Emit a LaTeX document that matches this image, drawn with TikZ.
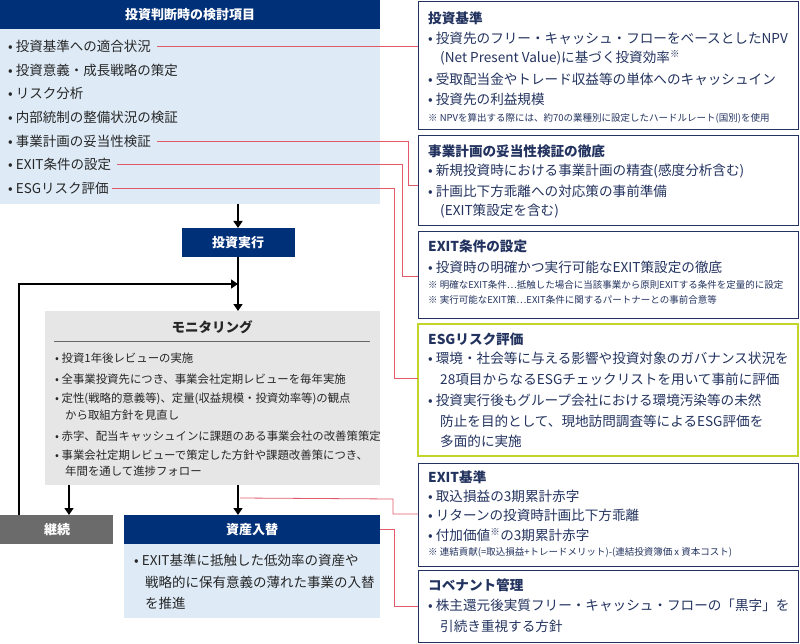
\documentclass[tikz,border=0pt]{standalone}
\usepackage{fontspec}
\setmainfont{Noto Sans CJK JP}
\usepackage{tikz}
\usetikzlibrary{arrows.meta}
\definecolor{navy}{HTML}{003078}
\definecolor{paleblue}{HTML}{DEEBF7}
\definecolor{panelgrey}{HTML}{E6E6E6}
\definecolor{darkgrey}{HTML}{6B6B6B}
\definecolor{inktext}{HTML}{23335F}
\definecolor{linkred}{HTML}{E05A6A}
\definecolor{esgframe}{HTML}{C3D52A}
\tikzset{
  item/.style={anchor=west, inner sep=0pt, font=\fontsize{13.5}{15}\selectfont, text=black!85},
  mon/.style={anchor=west, inner sep=0pt, font=\fontsize{11.4}{13}\selectfont, text=black!85},
  rtext/.style={anchor=west, inner sep=0pt, font=\fontsize{13.6}{15}\selectfont, text=inktext},
  rtitle/.style={anchor=west, inner sep=0pt, font=\fontsize{13.6}{15}\selectfont\bfseries, text=inktext},
  rnote/.style={anchor=west, inner sep=0pt, font=\fontsize{9.5}{11}\selectfont, text=inktext},
  frame/.style={draw=inktext, line width=1pt},
  flow/.style={-{Triangle[length=7pt,width=9pt]}, line width=1.4pt},
  link/.style={draw=linkred, line width=0.8pt}
}
\begin{document}
\begin{tikzpicture}[x=1pt,y=-1pt]
\useasboundingbox (0,0) rectangle (800,644);
% left column
\fill[paleblue] (0,29) rectangle (380,204);
\fill[navy] (0,0) rectangle (380,29);
\node[text=white, font=\fontsize{13}{15}\selectfont\bfseries] (head) at (190,15) {投資判断時の検討項目};
\node[item] (i1) at (8,46) {• 投資基準への適合状況};
\node[item] (i2) at (8,70) {• 投資意義・成長戦略の策定};
\node[item] (i3) at (8,93) {• リスク分析};
\node[item] (i4) at (8,117) {• 内部統制の整備状況の検証};
\node[item] (i5) at (8,141) {• 事業計画の妥当性検証};
\node[item] (i6) at (8,164) {• EXIT条件の設定};
\node[item] (i7) at (8,188) {• ESGリスク評価};
\fill[navy] (182,228) rectangle (295,257);
\node[text=white, font=\fontsize{13}{15}\selectfont\bfseries] (exec) at (238,243) {投資実行};
% monitoring
\fill[panelgrey] (45,311) rectangle (380,485);
\node[font=\fontsize{13.5}{15}\selectfont\bfseries, text=black!85] (montitle) at (212,327) {モニタリング};
\draw[black!60, line width=0.6pt] (54,341) -- (370,341);
\node[mon] (m1) at (55,358) {• 投資1年後レビューの実施};
\node[mon] (m2) at (55,379) {• 全事業投資先につき、事業会社定期レビューを毎年実施};
\node[mon] (m3) at (55,399) {• 定性(戦略的意義等)、定量(収益規模・投資効率等)の観点};
\node[mon] (m3b) at (65,415) {から取組方針を見直し};
\node[mon] (m4) at (55,436) {• 赤字、配当キャッシュインに課題のある事業会社の改善策策定};
\node[mon] (m5) at (55,455) {• 事業会社定期レビューで策定した方針や課題改善策につき、};
\node[mon] (m5b) at (65,471) {年間を通して進捗フォロー};
\fill[darkgrey] (0,515) rectangle (113,544);
\node[text=white, font=\fontsize{13}{15}\selectfont\bfseries] (keep) at (57,530) {継続};
\fill[paleblue] (124,544) rectangle (380,618);
\fill[navy] (124,515) rectangle (380,544);
\node[text=white, font=\fontsize{13}{15}\selectfont\bfseries] (swap) at (252,530) {資産入替};
\node[item] (s1) at (134,560) {• EXIT基準に抵触した低効率の資産や};
\node[item] (s1b) at (145,582) {戦略的に保有意義の薄れた事業の入替};
\node[item] (s1c) at (145,603) {を推進};
% flow arrows
\coordinate (loopin) at (238,284);
\draw[flow] (238,204) -- (238,228);
\draw[flow] (238,257) -- (238,311);
\draw[flow] (19,515) -- (19,284) -- (loopin);
\draw[flow] (69,485) -- (69,515);
\draw[flow] (238,485) -- (238,515);
% right boxes
\draw[frame] (418,2) rectangle (798,130);
\node[rtitle] (r1t) at (428,18) {投資基準};
\node[rtext] (r1a) at (428,38) {• 投資先のフリー・キャッシュ・フローをベースとしたNPV};
\node[rtext] (r1b) at (440,58) {(Net Present Value)に基づく投資効率\textsuperscript{※}};
\node[rtext] (r1c) at (428,79) {• 受取配当金やトレード収益等の単体へのキャッシュイン};
\node[rtext] (r1d) at (428,99) {• 投資先の利益規模};
\node[rnote] (r1n) at (428,118) {※ NPVを算出する際には、約70の業種別に設定したハードルレート(国別)を使用};
\draw[frame] (418,136) rectangle (798,226);
\node[rtitle] (r2t) at (428,151) {事業計画の妥当性検証の徹底};
\node[rtext] (r2a) at (428,171) {• 新規投資時における事業計画の精査(感度分析含む)};
\node[rtext] (r2b) at (428,191) {• 計画比下方乖離への対応策の事前準備};
\node[rtext] (r2c) at (440,211) {(EXIT策設定を含む)};
\draw[frame] (418,232) rectangle (798,318);
\node[rtitle] (r3t) at (428,246) {EXIT条件の設定};
\node[rtext] (r3a) at (428,267) {• 投資時の明確かつ実行可能なEXIT策設定の徹底};
\node[rnote] (r3n1) at (428,285) {※ 明確なEXIT条件…抵触した場合に当該事業から原則EXITする条件を定量的に設定};
\node[rnote] (r3n2) at (428,300) {※ 実行可能なEXIT策…EXIT条件に関するパートナーとの事前合意等};
\draw[draw=esgframe, line width=1.4pt] (418,324) rectangle (798,456);
\node[rtitle] (r4t) at (428,339) {ESGリスク評価};
\node[rtext] (r4a) at (428,358) {• 環境・社会等に与える影響や投資対象のガバナンス状況を};
\node[rtext] (r4b) at (440,379) {28項目からなるESGチェックリストを用いて事前に評価};
\node[rtext] (r4c) at (428,400) {• 投資実行後もグループ会社における環境汚染等の未然};
\node[rtext] (r4d) at (440,421) {防止を目的として、現地訪問調査等によるESG評価を};
\node[rtext] (r4e) at (440,441) {多面的に実施};
\draw[frame] (418,463) rectangle (798,566);
\node[rtitle] (r5t) at (428,477) {EXIT基準};
\node[rtext] (r5a) at (428,496) {• 取込損益の3期累計赤字};
\node[rtext] (r5b) at (428,515) {• リターンの投資時計画比下方乖離};
\node[rtext] (r5c) at (428,535) {• 付加価値\textsuperscript{※}の3期累計赤字};
\node[rnote] (r5n) at (428,552) {※ 連結貢献(=取込損益+トレードメリット)-(連結投資簿価 x 資本コスト)};
\draw[frame] (418,570) rectangle (798,642);
\node[rtitle] (r6t) at (428,585) {コベナント管理};
\node[rtext] (r6a) at (428,605) {• 株主還元後実質フリー・キャッシュ・フローの「黒字」を};
\node[rtext] (r6b) at (440,626) {引続き重視する方針};
% red links
\draw[link] ([xshift=6pt]i1.east) -- (418,46);
\draw[link] ([xshift=6pt]i5.east) -- (408,141) -- (408,185) -- (418,185);
\draw[link] ([xshift=6pt]i6.east) -- (402,164) -- (402,276) -- (418,276);
\draw[link] ([xshift=3pt]i7.east) -- (394,188) -- (394,378) -- (418,378);
\draw[link] (240,498) -- (393,499) -- (393,514) -- (418,514);
\draw[link] (380,529) -- (394,529) -- (394,606) -- (418,606);
\end{tikzpicture}
\end{document}
